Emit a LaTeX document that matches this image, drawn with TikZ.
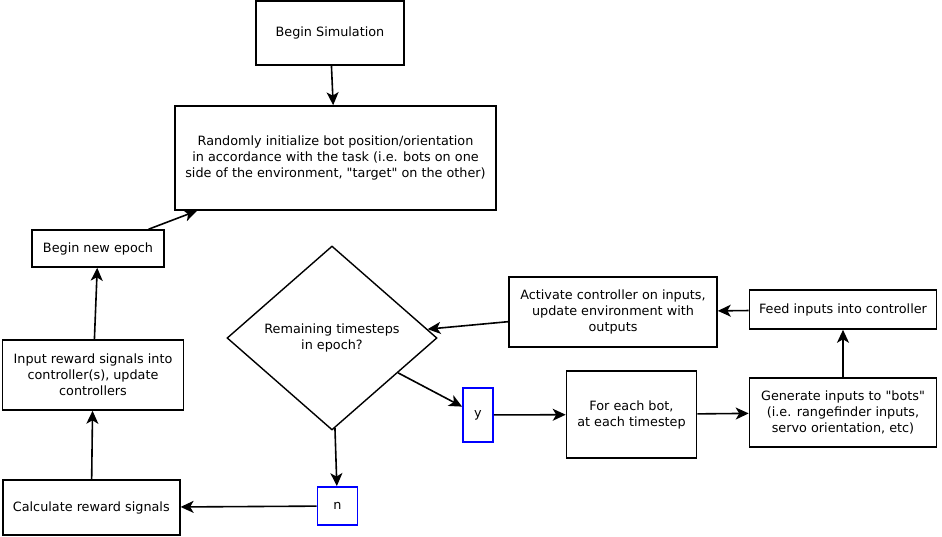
\documentclass[tikz,border=0pt]{standalone}
\usepackage{fontspec}
\setmainfont{DejaVu Sans}[Ligatures=TeXOff]
\usepackage{tikz}
\usetikzlibrary{shapes.geometric,arrows.meta}
\tikzstyle{block} = [draw, line width=1.6pt, inner sep=0pt, align=center]
\tikzstyle{answer} = [draw=blue, line width=1.8pt, inner sep=0pt, align=center]
\tikzstyle{decision} = [diamond, draw, line width=1.4pt, inner sep=0pt, align=center]

\begin{document}
\begin{tikzpicture}[x=1pt, y=-1pt, font=\fontsize{12.8}{16}\selectfont,
    >={Stealth[length=13pt, width=12pt, inset=3.5pt]}, line width=1.6pt]
	  \useasboundingbox (0,0) rectangle (942,537);
	  \node (a) at (330,33) [block, minimum width=148pt, minimum height=64pt] {Begin Simulation};
	  \node (b) at (335.5,158) [block, minimum width=321pt, minimum height=104pt] {Randomly initialize bot position/orientation\\ in accordance with the task (i.e. bots on one\\ side of the environment, "target" on the other)};
	  \node (c) at (98,248.5) [block, minimum width=132pt, minimum height=37pt] {Begin new epoch};
	  \node (d) at (332,338) [decision, minimum width=210pt, minimum height=184pt] {Remaining timesteps\\ in epoch?};
	  \node (e) at (613,312) [block, minimum width=208pt, minimum height=70pt] {Activate controller on inputs,\\ update environment with\\ outputs};
	  \node (f) at (843,309.5) [block, minimum width=187pt, minimum height=39pt] {Feed inputs into controller};
	  \node (g) at (843,412.5) [block, minimum width=187pt, minimum height=69pt] {Generate inputs to "bots"\\ (i.e. rangefinder inputs,\\ servo orientation, etc)};
	  \node (h) at (631.5,414.5) [block, minimum width=130pt, minimum height=87pt] {For each bot,\\ at each timestep};
	  \node (i) at (478,415) [answer, minimum width=30pt, minimum height=54pt] {y};
	  \node (j) at (337.5,506) [answer, minimum width=40pt, minimum height=38pt] {n};
	  \node (k) at (91.3,507.5) [block, minimum width=177pt, minimum height=55pt] {Calculate reward signals};
	  \node (l) at (93,375) [block, minimum width=181pt, minimum height=70pt] {Input reward signals into\\ controller(s), update\\ controllers};

	  \draw [->] (a) to (b);
	  \draw [->] (c) to (b);
	  \draw [->] (l) to (c);
	  \draw [->] (k) to (l);
	  \draw [->] (j) to (k);
	  \draw [->] (d) to (j);
	  \draw [->] (d) to (i);
	  \draw [->] (i) to (h);
	  \draw [->] (h) to (g);
	  \draw [->] (g) to (f);
	  \draw [->] (f) to (e);
	  \draw [->] (e) to (d);
	\end{tikzpicture}
\end{document}
